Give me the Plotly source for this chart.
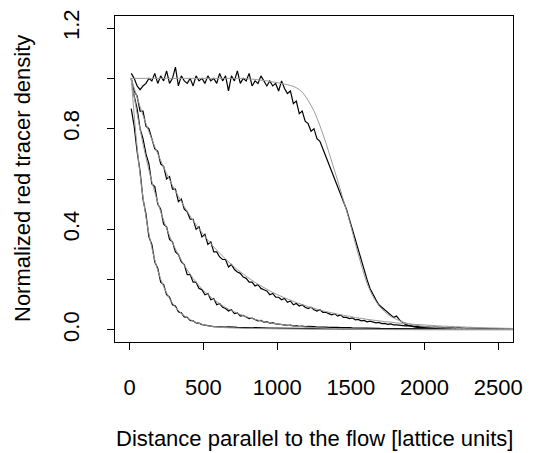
import plotly.graph_objects as go

# sampling positions (lattice units)
dist = list(range(10, 2600, 20))       # measured profiles
fit_dist = list(range(10, 2620, 40))   # fitted curves

# measured (black) profiles
sigmoid_data = [
    1.02, 1.00, 0.97, 0.955, 0.97, 0.98, 1.00, 0.99, 1.02, 0.98,
    1.01, 0.99, 1.03, 0.98, 1.00, 1.045, 0.97, 1.01, 0.99, 0.98,
    1.00, 0.97, 1.01, 0.99, 1.00, 0.98, 1.01, 0.99, 1.00, 0.98,
    1.02, 0.99, 1.01, 0.95, 1.01, 0.99, 1.03, 0.98, 1.00, 0.99,
    1.02, 0.97, 0.99, 0.98, 1.01, 0.99, 0.97, 0.99, 0.97, 0.98,
    0.95, 0.99, 0.96, 0.94, 0.95, 0.90, 0.91, 0.86, 0.87, 0.83,
    0.82, 0.79, 0.80, 0.76, 0.75, 0.72, 0.69, 0.66, 0.63, 0.60,
    0.57, 0.54, 0.51, 0.48, 0.44, 0.40, 0.36, 0.32, 0.27, 0.23,
    0.20, 0.165, 0.14, 0.12, 0.10, 0.09, 0.08, 0.07, 0.06, 0.05,
    0.055, 0.04, 0.03, 0.022, 0.018, 0.014, 0.012, 0.010, 0.009, 0.008,
    0.008, 0.007, 0.007, 0.006, 0.006, 0.006, 0.005, 0.005, 0.005, 0.005,
    0.004, 0.005, 0.004, 0.004, 0.004, 0.004, 0.003, 0.004, 0.003, 0.003,
    0.003, 0.003, 0.003, 0.003, 0.002, 0.003, 0.002, 0.002, 0.002, 0.002,
]
slow_data = [
    1.00, 0.95, 0.93, 0.87, 0.87, 0.81, 0.80, 0.76, 0.72, 0.71,
    0.66, 0.65, 0.60, 0.61, 0.56, 0.56, 0.51, 0.52, 0.48, 0.47,
    0.44, 0.44, 0.40, 0.41, 0.37, 0.38, 0.34, 0.35, 0.31, 0.31,
    0.29, 0.28, 0.28, 0.25, 0.26, 0.24, 0.23, 0.225, 0.21, 0.205,
    0.19, 0.19, 0.175, 0.18, 0.165, 0.16, 0.155, 0.14, 0.145, 0.13,
    0.13, 0.12, 0.125, 0.11, 0.115, 0.10, 0.105, 0.095, 0.10, 0.09,
    0.085, 0.09, 0.08, 0.075, 0.08, 0.07, 0.07, 0.065, 0.06, 0.065,
    0.055, 0.06, 0.05, 0.05, 0.045, 0.048, 0.04, 0.042, 0.036, 0.038,
    0.032, 0.035, 0.03, 0.028, 0.03, 0.025, 0.026, 0.022, 0.024, 0.02,
    0.02, 0.018, 0.019, 0.016, 0.017, 0.015, 0.014, 0.015, 0.012, 0.013,
    0.011, 0.012, 0.010, 0.011, 0.009, 0.010, 0.009, 0.008, 0.009, 0.008,
    0.007, 0.008, 0.007, 0.007, 0.006, 0.007, 0.006, 0.006, 0.005, 0.006,
    0.005, 0.005, 0.005, 0.004, 0.005, 0.004, 0.004, 0.004, 0.004, 0.004,
]
mid_data = [
    1.00, 0.93, 0.88, 0.80, 0.76, 0.70, 0.66, 0.58, 0.57, 0.50,
    0.48, 0.42, 0.41, 0.36, 0.35, 0.31, 0.30, 0.27, 0.26, 0.22,
    0.22, 0.19, 0.19, 0.165, 0.16, 0.14, 0.145, 0.12, 0.125, 0.10,
    0.105, 0.09, 0.085, 0.075, 0.08, 0.065, 0.068, 0.055, 0.058, 0.05,
    0.045, 0.047, 0.04, 0.036, 0.038, 0.031, 0.033, 0.027, 0.029, 0.024,
    0.023, 0.021, 0.022, 0.018, 0.019, 0.016, 0.017, 0.014, 0.015, 0.013,
    0.014, 0.012, 0.013, 0.011, 0.012, 0.010, 0.011, 0.010, 0.011, 0.009,
    0.010, 0.009, 0.010, 0.008, 0.009, 0.008, 0.008, 0.007, 0.008, 0.007,
    0.007, 0.006, 0.007, 0.006, 0.006, 0.005, 0.006, 0.005, 0.005, 0.005,
    0.005, 0.004, 0.005, 0.004, 0.004, 0.004, 0.004, 0.003, 0.004, 0.003,
    0.003, 0.003, 0.003, 0.003, 0.003, 0.003, 0.002, 0.003, 0.002, 0.002,
    0.002, 0.002, 0.002, 0.002, 0.002, 0.002, 0.002, 0.002, 0.002, 0.002,
    0.002, 0.002, 0.002, 0.002, 0.002, 0.002, 0.002, 0.002, 0.002, 0.002,
]
fast_data = [
    0.88, 0.81, 0.71, 0.63, 0.52, 0.46, 0.37, 0.34, 0.27, 0.245,
    0.19, 0.18, 0.14, 0.13, 0.10, 0.095, 0.072, 0.068, 0.052, 0.05,
    0.038, 0.036, 0.028, 0.027, 0.021, 0.020, 0.016, 0.015, 0.013, 0.012,
    0.012, 0.013, 0.011, 0.012, 0.010, 0.011, 0.010, 0.009, 0.010, 0.009,
    0.009, 0.008, 0.009, 0.008, 0.008, 0.007, 0.008, 0.007, 0.007, 0.007,
    0.006, 0.007, 0.006, 0.006, 0.006, 0.005, 0.006, 0.005, 0.005, 0.005,
    0.005, 0.005, 0.004, 0.005, 0.004, 0.004, 0.004, 0.004, 0.004, 0.004,
    0.004, 0.003, 0.004, 0.003, 0.003, 0.003, 0.003, 0.003, 0.003, 0.003,
    0.003, 0.003, 0.003, 0.003, 0.003, 0.003, 0.003, 0.003, 0.003, 0.003,
    0.003, 0.003, 0.003, 0.003, 0.003, 0.003, 0.003, 0.003, 0.003, 0.003,
    0.002, 0.002, 0.002, 0.002, 0.002, 0.002, 0.002, 0.002, 0.002, 0.002,
    0.002, 0.002, 0.002, 0.002, 0.002, 0.002, 0.002, 0.002, 0.002, 0.002,
    0.002, 0.002, 0.002, 0.002, 0.002, 0.002, 0.002, 0.002, 0.002, 0.002,
]

# fitted (gray) curves
sigmoid_fit = [
    1.0, 1.0, 1.0, 1.0, 1.0, 1.0, 1.0, 1.0, 1.0, 1.0,
    1.0, 1.0, 1.0, 1.0, 1.0, 1.0, 1.0, 1.0, 1.0, 1.0,
    0.998, 0.996, 0.993, 0.990, 0.986, 0.982, 0.977, 0.972, 0.963, 0.945,
    0.912, 0.87, 0.812, 0.745, 0.67, 0.595, 0.515, 0.435, 0.345, 0.26,
    0.185, 0.133, 0.097, 0.072, 0.054, 0.042, 0.032, 0.025, 0.020, 0.016,
    0.013, 0.011, 0.009, 0.008, 0.007, 0.006, 0.0055, 0.005, 0.0045, 0.004,
    0.0037, 0.0034, 0.0031, 0.0029, 0.0027, 0.0025,
]
slow_fit = [
    1.0, 0.924, 0.853, 0.788, 0.728, 0.673, 0.622, 0.574, 0.531, 0.490,
    0.453, 0.418, 0.387, 0.357, 0.330, 0.305, 0.282, 0.260, 0.240, 0.222,
    0.205, 0.189, 0.175, 0.162, 0.149, 0.138, 0.128, 0.118, 0.109, 0.101,
    0.093, 0.086, 0.079, 0.073, 0.068, 0.063, 0.058, 0.054, 0.049, 0.046,
    0.042, 0.039, 0.036, 0.033, 0.031, 0.028, 0.026, 0.024, 0.022, 0.021,
    0.019, 0.018, 0.016, 0.015, 0.014, 0.013, 0.012, 0.011, 0.010, 0.0093,
    0.0086, 0.0080, 0.0074, 0.0068, 0.0063, 0.0058,
]
mid_fit = [
    1.0, 0.860, 0.739, 0.636, 0.547, 0.470, 0.404, 0.347, 0.299, 0.257,
    0.221, 0.190, 0.163, 0.141, 0.121, 0.104, 0.089, 0.077, 0.066, 0.057,
    0.049, 0.042, 0.036, 0.031, 0.027, 0.023, 0.020, 0.017, 0.015, 0.013,
    0.011, 0.0093, 0.008, 0.0069, 0.0059, 0.0051, 0.0044, 0.0038, 0.0032, 0.0028,
    0.0024, 0.0021, 0.0018, 0.0016, 0.0014, 0.0012, 0.0011, 0.0010, 0.0009, 0.0008,
    0.0007, 0.0006, 0.0006, 0.0005, 0.0005, 0.0004, 0.0004, 0.0004, 0.0003, 0.0003,
    0.0003, 0.0003, 0.0002, 0.0002, 0.0002, 0.0002,
]
fast_fit = [
    1.0, 0.726, 0.527, 0.383, 0.278, 0.202, 0.147, 0.106, 0.077, 0.056,
    0.041, 0.030, 0.022, 0.017, 0.013, 0.011, 0.009, 0.008, 0.0072, 0.0066,
    0.0060, 0.0056, 0.0052, 0.0048, 0.0045, 0.0042, 0.0040, 0.0038, 0.0036, 0.0034,
    0.0032, 0.0030, 0.0030, 0.0030, 0.0029, 0.0028, 0.0028, 0.0027, 0.0026, 0.0026,
    0.0025, 0.0025, 0.0024, 0.0024, 0.0023, 0.0023, 0.0022, 0.0022, 0.0022, 0.0021,
    0.0021, 0.0021, 0.0020, 0.0020, 0.0020, 0.0020, 0.0020, 0.0020, 0.0020, 0.0020,
    0.0020, 0.0020, 0.0020, 0.0020, 0.0020, 0.0020,
]

y_tick_vals = [0.0, 0.2, 0.4, 0.6, 0.8, 1.0, 1.2]
y_tick_text = ["0.0", "", "0.4", "", "0.8", "", "1.2"]
x_tick_vals = [0, 500, 1000, 1500, 2000, 2500]

FONT = "Liberation Sans, Arial, Helvetica, sans-serif"
fig = go.Figure()

for series in [sigmoid_data, slow_data, mid_data, fast_data]:
    fig.add_trace(go.Scatter(x=dist[:len(series)], y=series, mode="lines",
                             line=dict(color="black", width=1.2),
                             showlegend=False, hoverinfo="skip"))
for series in [sigmoid_fit, slow_fit, mid_fit, fast_fit]:
    fig.add_trace(go.Scatter(x=fit_dist[:len(series)], y=series, mode="lines",
                             line=dict(color="#9a9a9a", width=1, shape="spline"),
                             showlegend=False, hoverinfo="skip"))

axis_common = dict(showgrid=False, zeroline=False, showline=True, mirror=True,
                   linecolor="black", linewidth=1, ticks="outside", ticklen=7,
                   tickwidth=1, tickcolor="black",
                   tickfont=dict(family=FONT, size=22, color="black"))

fig.update_xaxes(range=[-100, 2600], tickvals=x_tick_vals,
                 ticklabelstandoff=19, **axis_common)
fig.update_yaxes(range=[-0.048, 1.248], tickvals=y_tick_vals, ticktext=y_tick_text,
                 tickangle=-90, ticklabelstandoff=19, **axis_common)

fig.add_annotation(text="Distance parallel to the flow [lattice units]",
                   xref="paper", yref="paper", x=0.5, y=0, yanchor="middle",
                   yshift=-96, showarrow=False,
                   font=dict(family=FONT, size=22, color="black"))
fig.add_annotation(text="Normalized red tracer density",
                   xref="paper", yref="paper", x=0, y=0.5, xanchor="center",
                   xshift=-93, textangle=-90, showarrow=False,
                   font=dict(family=FONT, size=22, color="black"))

fig.update_layout(width=538, height=453,
                  margin=dict(l=115, r=25, t=10, b=111),
                  paper_bgcolor="white", plot_bgcolor="white")

fig.write_html("out.html")
